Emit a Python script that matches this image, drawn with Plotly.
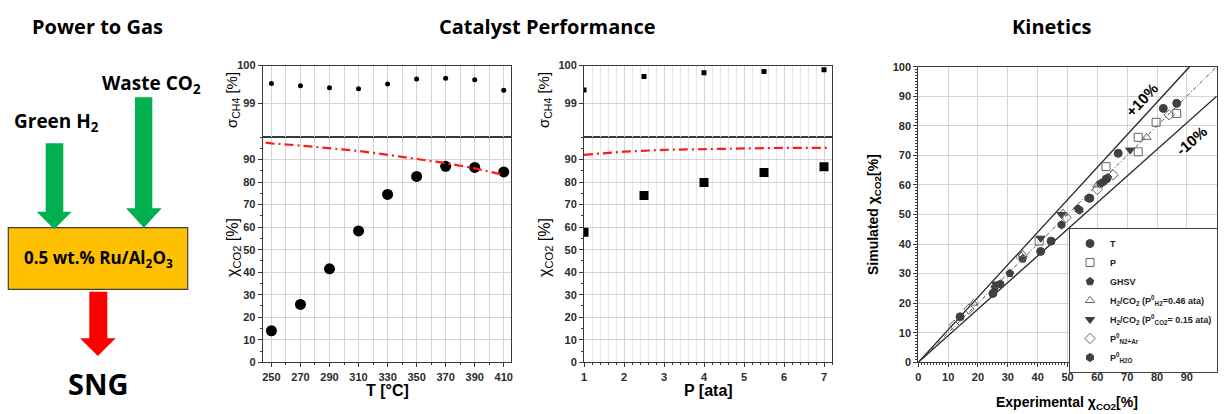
import plotly.graph_objects as go

W, H = 1225, 414

# ---------------- data ----------------
temps = [250, 270, 290, 310, 330, 350, 370, 390, 410]
sel_T = [99.52, 99.46, 99.41, 99.38, 99.51, 99.64, 99.66, 99.62, 99.34]
conv_T = [14.0, 25.7, 41.5, 58.3, 74.5, 82.5, 87.0, 86.5, 84.5]
eq_T_x = [246, 250, 270, 290, 310, 330, 350, 370, 390, 410]
eq_T_y = [97.5, 97.2, 96.2, 95.0, 93.8, 92.1, 90.4, 88.4, 86.1, 83.2]

press = [1, 2.5, 4, 5.5, 7]
sel_P = [99.35, 99.71, 99.81, 99.84, 99.89]
conv_P = [57.7, 74.0, 79.8, 84.2, 86.8]
eq_P_x = [1, 2, 3, 4, 5, 6, 7, 7.1]
eq_P_y = [92.1, 93.5, 94.3, 94.7, 94.9, 95.2, 95.2, 95.2]

# parity (experimental, simulated)
kin_T_exp = [14, 25, 41, 44.5, 57.5, 67, 82.1, 86.6, 63]
kin_T_sim = [15.4, 23.3, 37.5, 41, 55.5, 70.7, 85.9, 87.6, 62]
kin_P_exp = [40.5, 62.9, 73.7, 73.7, 79.7, 86.6]
kin_P_sim = [41, 66.2, 71.2, 76.1, 81.2, 84.2]
kin_G_exp = [25.7, 30.7, 35, 53.5, 61, 63.5]
kin_G_sim = [25.4, 30.1, 35, 52, 60.5, 62.5]
kin_H_exp = [18.5, 27, 35, 48.5, 60, 76.5]
kin_H_sim = [20, 26, 36.5, 50.5, 60, 76.1]
kin_C_exp = [26, 41, 48, 61.5, 71]
kin_C_sim = [26.5, 42, 50, 60.5, 71.8]
kin_N_exp = [12, 17, 34.4, 49.5, 60, 65.3, 84.1]
kin_N_sim = [12.5, 18, 35.6, 49, 58.5, 63.4, 83.7]
kin_W_exp = [27.5, 48, 54, 57, 62, 63]
kin_W_sim = [26.5, 46.5, 51.5, 55.5, 61, 62]

parity_x = [0, 100]
upper_x = [0, 100 / 1.1]
lower_x = [0, 100]

T_ticks = [250, 270, 290, 310, 330, 350, 370, 390, 410]
P_ticks = [1, 2, 3, 4, 5, 6, 7]
conv_ticks = [0, 10, 20, 30, 40, 50, 60, 70, 80, 90]
sel_ticks = [99, 100]
kin_ticks = list(range(0, 101, 10))

# ---------------- helpers ----------------
def px(x):
    return x / W

def py(y):
    return 1 - y / H

TICKFONT = dict(family="Liberation Sans", size=11, color="#2a2a2a", weight="bold")
GRID = "#d4d4d4"
LINE = "#3a3a3a"

fig = go.Figure()

# T panel
fig.add_trace(go.Scatter(x=temps, y=conv_T, mode="markers", xaxis="x", yaxis="y",
                         marker=dict(symbol="circle", size=11, color="black"), showlegend=False))
fig.add_trace(go.Scatter(x=eq_T_x, y=eq_T_y, mode="lines", xaxis="x", yaxis="y",
                         line=dict(color="#ff1a1a", width=2.2, dash="9px,4px,2px,4px"), showlegend=False))
fig.add_trace(go.Scatter(x=temps, y=sel_T, mode="markers", xaxis="x2", yaxis="y2",
                         marker=dict(symbol="circle", size=5, color="black"), showlegend=False))
# P panel
fig.add_trace(go.Scatter(x=press, y=conv_P, mode="markers", xaxis="x3", yaxis="y3",
                         marker=dict(symbol="square", size=9, color="black"), showlegend=False))
fig.add_trace(go.Scatter(x=eq_P_x, y=eq_P_y, mode="lines", xaxis="x3", yaxis="y3",
                         line=dict(color="#ff1a1a", width=2.2, dash="9px,4px,2px,4px"), showlegend=False))
fig.add_trace(go.Scatter(x=press, y=sel_P, mode="markers", xaxis="x4", yaxis="y4",
                         marker=dict(symbol="square", size=5, color="black"), showlegend=False))

# Kinetics lines
fig.add_trace(go.Scatter(x=upper_x, y=[v * 1.1 for v in upper_x], mode="lines", xaxis="x5", yaxis="y5",
                         line=dict(color="#222", width=1.3), showlegend=False, hoverinfo="skip"))
fig.add_trace(go.Scatter(x=lower_x, y=[v * 0.9 for v in lower_x], mode="lines", xaxis="x5", yaxis="y5",
                         line=dict(color="#222", width=1.3), showlegend=False, hoverinfo="skip"))
fig.add_trace(go.Scatter(x=parity_x, y=parity_x, mode="lines", xaxis="x5", yaxis="y5",
                         line=dict(color="#555", width=1, dash="4px,2px,1px,2px"), showlegend=False, hoverinfo="skip"))

FILL = "#404040"
OPEN = "#666666"
series = [
    ("T", kin_T_exp, kin_T_sim, "circle", FILL, FILL),
    ("P", kin_P_exp, kin_P_sim, "square-open", OPEN, OPEN),
    ("GHSV", kin_G_exp, kin_G_sim, "pentagon", FILL, FILL),
    ("H<sub>2</sub>/CO<sub>2</sub> (P<sup>0</sup><sub>H2</sub>=0.46 ata)", kin_H_exp, kin_H_sim, "triangle-up-open", OPEN, OPEN),
    ("H<sub>2</sub>/CO<sub>2</sub> (P<sup>0</sup><sub>CO2</sub>= 0.15 ata)", kin_C_exp, kin_C_sim, "triangle-down", FILL, FILL),
    ("P<sup>0</sup><sub>N2+Ar</sub>", kin_N_exp, kin_N_sim, "diamond-open", OPEN, OPEN),
    ("P<sup>0</sup><sub>H2O</sub>", kin_W_exp, kin_W_sim, "hexagon", FILL, FILL),
]
for name, xs, ys, sym, col, lcol in series:
    fig.add_trace(go.Scatter(x=xs, y=ys, mode="markers", name=name, xaxis="x5", yaxis="y5",
                             marker=dict(symbol=sym, size=8, color=col, line=dict(color=lcol, width=1))))

def axis(domain, **kw):
    d = dict(domain=domain, showline=True, linecolor=LINE, linewidth=1, mirror=True,
             tickfont=TICKFONT, gridcolor=GRID, gridwidth=1, zeroline=False, showgrid=True,
             ticks="outside", ticklen=4, tickcolor=LINE, automargin=False)
    d.update(kw)
    return d

xT = [px(262.7), px(511)]
xP = [px(584), px(832)]
yUp = [py(137), py(65.5)]
yLo = [py(362.3), py(137)]
xK = [px(918.3), px(1216.7)]
yK = [py(362.3), py(66.7)]

fig.update_layout(
    template="none",
    width=W, height=H, margin=dict(l=0, r=0, t=0, b=0, pad=0, autoexpand=False),
    paper_bgcolor="white", plot_bgcolor="white",
    xaxis=axis(xT, anchor="y", range=[244, 415], tickvals=T_ticks,
               minor=dict(dtick=10, tick0=250, showgrid=True, gridcolor=GRID, ticks="outside", ticklen=2)),
    yaxis=axis(yLo, anchor="x", range=[0, 100], tickvals=conv_ticks,
               minor=dict(dtick=5, ticks="outside", ticklen=2, showgrid=False)),
    xaxis2=axis(xT, anchor="y2", matches="x", range=[244, 415], tickvals=T_ticks, showticklabels=False,
                ticks="", minor=dict(dtick=10, tick0=250, showgrid=True, gridcolor=GRID)),
    yaxis2=axis(yUp, anchor="x2", range=[98.1, 100], tickvals=sel_ticks),
    xaxis3=axis(xP, anchor="y3", range=[1, 7.2], tickvals=P_ticks,
                minor=dict(dtick=0.2, tick0=1, showgrid=True, gridcolor="#e6e6e6", ticks="outside", ticklen=2)),
    yaxis3=axis(yLo, anchor="x3", range=[0, 100], tickvals=conv_ticks,
                minor=dict(dtick=5, ticks="outside", ticklen=2, showgrid=False)),
    xaxis4=axis(xP, anchor="y4", range=[1, 7.2], tickvals=P_ticks, showticklabels=False, ticks="",
                minor=dict(dtick=0.2, tick0=1, showgrid=True, gridcolor="#e6e6e6")),
    yaxis4=axis(yUp, anchor="x4", range=[98.1, 100], tickvals=sel_ticks),
    xaxis5=axis(xK, anchor="y5", range=[0, 100], tickvals=kin_ticks,
                minor=dict(dtick=1, ticks="outside", ticklen=2, showgrid=False)),
    yaxis5=axis(yK, anchor="x5", range=[0, 100], tickvals=kin_ticks,
                minor=dict(dtick=1, ticks="outside", ticklen=2, showgrid=False)),
    showlegend=True,
    legend=dict(x=px(1069), y=py(228), xanchor="left", yanchor="top",
                bgcolor="white", bordercolor="#444", borderwidth=1,
                font=dict(family="Liberation Sans", size=9, color="#222", weight="bold"),
                tracegroupgap=0, itemsizing="trace"),
)

ann = []
def text(x, y, s, size, family="Open Sans", weight="bold", angle=0, color="black", xref="paper", yref="paper"):
    ann.append(dict(x=x, y=y, text=s, showarrow=False, xref=xref, yref=yref,
                    xanchor="center", yanchor="middle", textangle=angle,
                    font=dict(family=family, size=size, color=color, weight=weight)))

# section titles
text(px(97.5), py(27), "Power to Gas", 20)
text(px(547), py(27), "Catalyst Performance", 20)
text(px(1051), py(27), "Kinetics", 20)

# diagram text
text(px(151), py(84), "Waste CO<sub>2</sub>", 19)
text(px(56), py(122), "Green H<sub>2</sub>", 19)
text(px(98), py(258), "0.5 wt.% Ru/Al<sub>2</sub>O<sub>3</sub>", 17)
text(px(98), py(383), "SNG", 29)

# axis titles
AX = "Liberation Sans"
text(px(387), py(390), "T [°C]", 16, family=AX)
text(px(708), py(390), "P [ata]", 16, family=AX)
text(px(233), py(100), "σ<sub>CH4</sub> [%]", 15, family=AX, weight="normal", angle=-90)
text(px(233), py(248), "χ<sub>CO2</sub> [%]", 16, family=AX, weight="normal", angle=-90)
text(px(545), py(100), "σ<sub>CH4</sub> [%]", 15, family=AX, weight="normal", angle=-90)
text(px(545), py(248), "χ<sub>CO2</sub> [%]", 16, family=AX, weight="normal", angle=-90)
text(px(874), py(215), "Simulated χ<sub>CO2</sub>[%]", 14, family=AX, angle=-90)
text(px(1067), py(403), "Experimental χ<sub>CO2</sub>[%]", 14, family=AX)

# +-10% labels
text(74.9, 89.0, "+10%", 15, family=AX, angle=-47, xref="x5", yref="y5")
text(91.6, 75.0, "-10%", 15, family=AX, angle=-41, xref="x5", yref="y5")
fig.update_layout(annotations=ann)

# diagram shapes
def arrow(sx0, sx1, sy0, hy, hx0, hx1, ty, color):
    cx = (hx0 + hx1) / 2
    pts = [(sx0, sy0), (sx1, sy0), (sx1, hy), (hx1, hy), (cx, ty), (hx0, hy), (sx0, hy)]
    path = "M " + " L ".join(f"{px(a):.5f},{py(b):.5f}" for a, b in pts) + " Z"
    return dict(type="path", path=path, xref="paper", yref="paper",
                fillcolor=color, line=dict(width=0))

shapes = [
    arrow(45.7, 63.3, 143.3, 211.7, 36.7, 71.7, 229.3, "#00b050"),
    arrow(135, 152.3, 97.3, 208.3, 126, 161.7, 227.7, "#00b050"),
    dict(type="rect", xref="paper", yref="paper", x0=px(8.3), x1=px(187.7), y0=py(289.3), y1=py(227.7),
         fillcolor="#ffc000", line=dict(color="#404040", width=1.2), layer="below"),
    arrow(89.3, 107.3, 291.7, 338.3, 80, 115.7, 356, "#ff0000"),
]
fig.update_layout(shapes=shapes)

fig.write_html("out.html", config={"displayModeBar": False},
               post_script="document.body.style.margin='0';document.body.style.padding='0';"
                           "document.documentElement.style.overflow='hidden';")
